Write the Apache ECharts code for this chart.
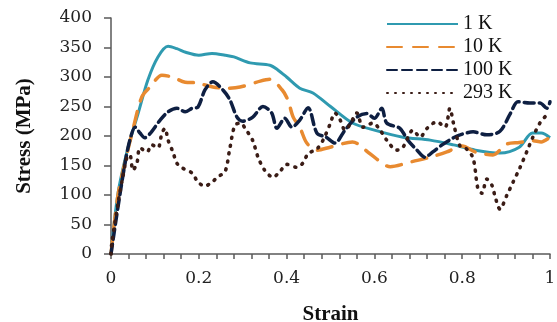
<!DOCTYPE html>
<html>
	<head>
		<meta charset="utf-8" />
		<title>stress strain</title>
		<script src="https://cdn.jsdelivr.net/npm/echarts@6/dist/echarts.min.js"></script>
	</head>
	<body style="margin:0;">
		<div id="chart" style="width:557px;height:322px;"></div>
	</body>
	<script type="text/javascript">

	// 1 K
	var strain1K = [0,0.016,0.039,0.062,0.084,0.107,0.13,0.15,0.17,0.2,0.23,0.26,0.28,0.317,0.362,0.38,0.40,0.43,0.46,0.50,0.55,0.6,0.665,0.727,0.78,0.83,0.886,0.93,0.96,0.98,1.0];
	var stress1K = [0,103,181,239,295,334,352,348,342,337,340,337,334,324,320,312,300,281,273,250,222,210,198,193,185,176,171,181,205,205,197];

	// 10 K
	var strain10K = [0,0.016,0.039,0.048,0.07,0.089,0.116,0.139,0.169,0.196,0.232,0.264,0.294,0.34,0.362,0.39,0.403,0.415,0.43,0.446,0.469,0.499,0.55,0.59,0.636,0.688,0.727,0.765,0.80,0.83,0.87,0.90,0.93,0.96,0.98,1.0];
	var stress10K = [0,100,178,205,266,283,303,300,291,290,283,281,283,293,296,278,261,232,215,188,176,181,190,170,148,157,164,173,183,173,168,186,189,192,190,198];

	// 100 K
	var strain100K = [0,0.016,0.032,0.043,0.055,0.066,0.077,0.09,0.112,0.13,0.15,0.169,0.185,0.198,0.214,0.232,0.255,0.271,0.287,0.30,0.323,0.346,0.366,0.378,0.396,0.412,0.43,0.449,0.469,0.49,0.51,0.533,0.56,0.583,0.6,0.617,0.628,0.658,0.676,0.697,0.715,0.733,0.754,0.78,0.795,0.825,0.856,0.886,0.909,0.927,0.954,0.977,0.993,1.0];
	var stress100K = [0,80,154,193,215,205,197,205,227,241,247,241,247,249,278,292,278,261,232,225,232,250,239,213,230,215,227,248,205,198,188,210,232,238,230,247,222,213,193,176,164,173,185,197,202,207,202,208,237,258,256,256,247,258];

	// 293 K
	var strain293K = [0,0.002,0.016,0.027,0.036,0.043,0.05,0.059,0.066,0.082,0.093,0.107,0.116,0.123,0.13,0.141,0.15,0.162,0.185,0.198,0.214,0.23,0.244,0.26,0.27,0.282,0.294,0.31,0.323,0.335,0.35,0.369,0.385,0.40,0.423,0.437,0.449,0.469,0.483,0.499,0.51,0.522,0.533,0.544,0.56,0.574,0.597,0.613,0.628,0.651,0.665,0.688,0.704,0.72,0.742,0.761,0.772,0.78,0.795,0.81,0.825,0.836,0.845,0.856,0.868,0.875,0.886,0.902,0.916,0.932,0.948,0.961,0.977,0.993,1.0];
	var stress293K = [0,19,86,131,163,168,142,154,180,173,185,180,205,213,193,173,154,146,137,122,115,122,131,140,176,218,222,208,192,164,142,130,140,152,147,154,170,178,193,220,239,227,210,219,239,215,222,210,193,176,181,210,198,213,224,215,247,222,183,178,162,110,103,127,116,97,76,100,122,147,175,198,222,236,240];

	function pairs(xs, ys) {
		var out = [];
		for (var i = 0; i < xs.length; i++) {
			out.push([xs[i], ys[i]]);
		}
		return out;
	}

	var serif = 'Liberation Serif';
	var tickFont = 'DejaVu Serif';
	var axisColor = '#595959';

	var myChart = echarts.init(document.getElementById('chart'));
	var option = {
		animation: false,
		backgroundColor: '#fff',
		grid: {
			left: 111,
			right: 7,
			top: 18,
			bottom: 68,
			outerBoundsMode: 'none'
		},
		legend: {
			orient: 'vertical',
			left: 381,
			top: 9,
			itemWidth: 71,
			itemHeight: 12,
			itemGap: 3,
			itemStyle: {opacity: 0},
			textStyle: {fontFamily: serif, fontSize: 20, color: '#111'},
			data: ['1 K', '10 K', '100 K', '293 K']
		},
		xAxis: {
			type: 'value',
			min: 0,
			max: 1,
			interval: 0.2,
			name: 'Strain',
			nameLocation: 'middle',
			nameGap: 50,
			nameTextStyle: {fontFamily: serif, fontSize: 21, fontWeight: 'bold', color: '#111'},
			axisLine: {lineStyle: {color: axisColor, width: 1.5}},
			axisTick: {length: 5, lineStyle: {color: axisColor, width: 1.5}},
			minorTick: {show: true, splitNumber: 5, length: 5, lineStyle: {color: axisColor, width: 1.5}},
			splitLine: {show: false},
			axisLabel: {fontFamily: tickFont, fontSize: 17, color: '#222', margin: 16}
		},
		yAxis: {
			type: 'value',
			min: 0,
			max: 400,
			interval: 50,
			name: 'Stress (MPa)',
			nameLocation: 'middle',
			nameGap: 76,
			nameTextStyle: {fontFamily: serif, fontSize: 21, fontWeight: 'bold', color: '#111'},
			axisLine: {show: true, lineStyle: {color: axisColor, width: 1.5}},
			axisTick: {show: true, length: 7, lineStyle: {color: axisColor, width: 1.5}},
			splitLine: {show: false},
			axisLabel: {fontFamily: tickFont, fontSize: 17, color: '#222', margin: 19}
		},
		series: [
			{
				name: '1 K',
				type: 'line',
				symbol: 'none',
				smooth: 0.3,
				lineStyle: {color: '#2f9ab0', width: 3},
				itemStyle: {color: '#2f9ab0'},
				data: pairs(strain1K, stress1K)
			},
			{
				name: '10 K',
				type: 'line',
				symbol: 'none',
				smooth: 0.3,
				lineStyle: {color: '#e88a30', width: 3.5, type: [15, 11], cap: 'round'},
				itemStyle: {color: '#e88a30'},
				data: pairs(strain10K, stress10K)
			},
			{
				name: '100 K',
				type: 'line',
				symbol: 'none',
				smooth: 0.3,
				lineStyle: {color: '#0e1f42', width: 3.5, type: [10, 5], cap: 'round'},
				itemStyle: {color: '#0e1f42'},
				data: pairs(strain100K, stress100K)
			},
			{
				name: '293 K',
				type: 'line',
				symbol: 'none',
				smooth: 0.3,
				lineStyle: {color: '#3a1c16', width: 3.6, type: [1, 7], cap: 'round'},
				itemStyle: {color: '#3a1c16'},
				data: pairs(strain293K, stress293K)
			}
		]
	};
	myChart.setOption(option);

	</script>
</html>
